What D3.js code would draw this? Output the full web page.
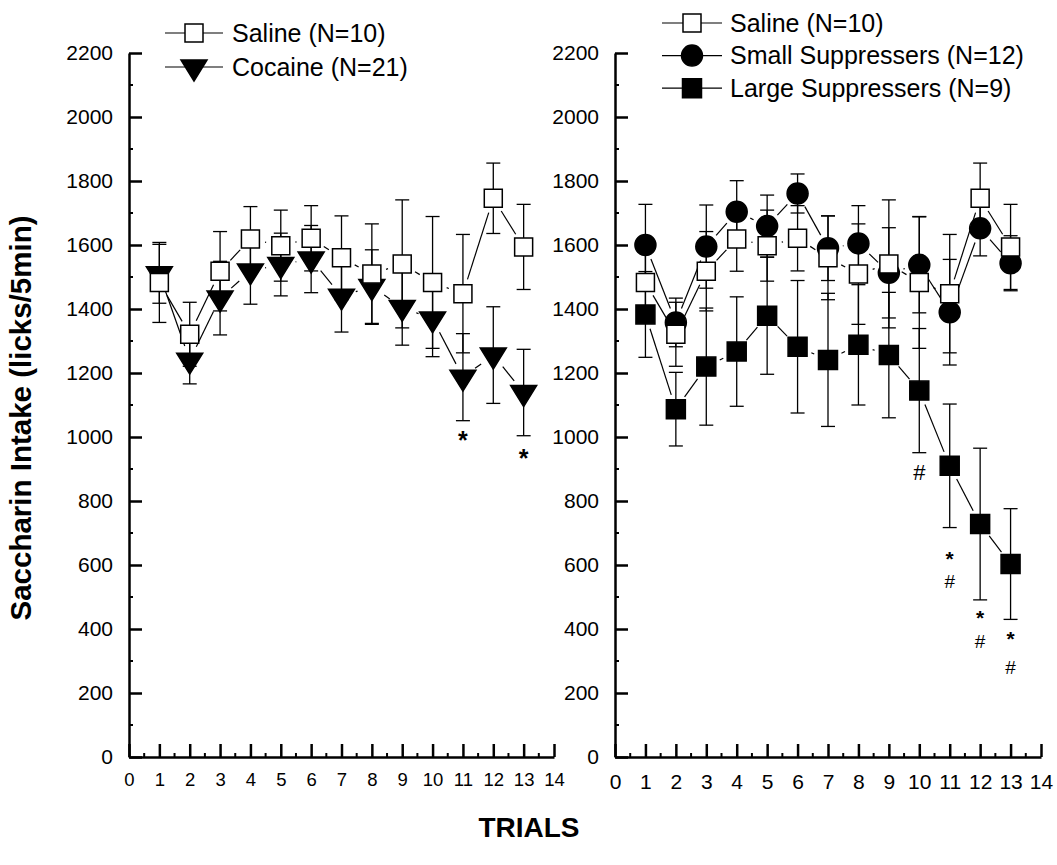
<!DOCTYPE html>
<html>
<head>
<meta charset="utf-8">
<script src="https://cdn.jsdelivr.net/npm/d3@7"></script>
<style>
  body { margin: 0; background: #fff; }
  svg { display: block; }
  text { font-family: Arial, "Liberation Sans", sans-serif; fill: #000; }
</style>
</head>
<body>
<svg width="1057" height="865"></svg>
<script>
// DATA
const trials = [1, 2, 3, 4, 5, 6, 7, 8, 9, 10, 11, 12, 13];
const yTicks = [0, 200, 400, 600, 800, 1000, 1200, 1400, 1600, 1800, 2000, 2200];
const xTicks = [0, 1, 2, 3, 4, 5, 6, 7, 8, 9, 10, 11, 12, 13, 14];

const salineMean = [1483, 1321, 1518, 1619, 1598, 1621, 1560, 1509, 1541, 1483, 1448, 1746, 1594];
const salineErr = [125, 100, 124, 101, 111, 102, 131, 157, 200, 206, 185, 110, 133];

const cocaineMean = [1510, 1240, 1434, 1519, 1539, 1556, 1440, 1470, 1405, 1369, 1187, 1256, 1139];
const cocaineErr = [92, 74, 115, 104, 98, 105, 112, 115, 118, 118, 136, 151, 135];

const smallMean = [1600, 1358, 1595, 1704, 1659, 1761, 1590, 1605, 1513, 1538, 1390, 1652, 1543];
const smallErr = [127, 76, 130, 97, 97, 61, 101, 118, 141, 150, 165, 86, 86];

const largeMean = [1383, 1087, 1220, 1267, 1379, 1282, 1241, 1288, 1256, 1145, 910, 728, 603];
const largeErr = [134, 115, 183, 171, 183, 207, 208, 188, 196, 194, 193, 237, 173];

// significance marks: trial, y value at the glyph's centre, glyph
const leftMarks = [
  { trial: 11, value: 1006, text: "*" },
  { trial: 13, value: 950, text: "*" }
];
const rightMarks = [
  { trial: 10, value: 890, text: "#" },
  { trial: 11, value: 636, text: "*" },
  { trial: 11, value: 550, text: "#" },
  { trial: 12, value: 449, text: "*" },
  { trial: 12, value: 363, text: "#" },
  { trial: 13, value: 384, text: "*" },
  { trial: 13, value: 281, text: "#" }
];

// CONSTANTS
const svg = d3.select("svg");
const yTop = 53, yBottom = 757;
const capW = 14;
const lineGap = 15;
const font = "Arial, 'Liberation Sans', sans-serif";

const yScale = d3.scaleLinear().domain([0, 2200]).range([yBottom, yTop]);

// marker shapes
const shapes = {
  openSquare: { d: "M-9,-9H9V9H-9Z", fill: "#fff" },
  square: { d: "M-9.5,-9.5H9.5V9.5H-9.5Z", fill: "#000" },
  circle: { d: d3.symbol(d3.symbolCircle, Math.PI * 10.5 * 10.5)(), fill: "#000" },
  triangle: { d: "M-13,-7L13,-7L0,14Z", fill: "#000" }
};

const saline = { name: "Saline (N=10)", mean: salineMean, err: salineErr, shape: "openSquare" };
const cocaine = { name: "Cocaine (N=21)", mean: cocaineMean, err: cocaineErr, shape: "triangle" };
const small = { name: "Small Suppressers (N=12)", mean: smallMean, err: smallErr, shape: "circle" };
const large = { name: "Large Suppressers (N=9)", mean: largeMean, err: largeErr, shape: "square" };

const panels = [
  {
    x0: 129, x1: 554, xFont: 18.5, xLabelY: 780,
    series: [cocaine, saline], // drawing order, saline on top
    legendOrder: [saline, cocaine],
    legend: { lineX0: 165, lineX1: 223, textX: 232, y0: 33, dy: 34 },
    marks: leftMarks
  },
  {
    x0: 615, x1: 1041, xFont: 21, xLabelY: 782,
    series: [large, small, saline],
    legendOrder: [saline, small, large],
    legend: { lineX0: 662, lineX1: 722, textX: 730, y0: 23, dy: 32.6 },
    marks: rightMarks
  }
];

function drawMarker(g, shape, x, y) {
  g.append("path")
    .attr("d", shapes[shape].d)
    .attr("transform", `translate(${x},${y})`)
    .attr("fill", shapes[shape].fill)
    .attr("stroke", "#000")
    .attr("stroke-width", 1.5);
}

panels.forEach(p => {
  const xScale = d3.scaleLinear().domain([0, 14]).range([p.x0, p.x1]);
  const g = svg.append("g");

  // y axis
  const yAxis = g.append("g")
    .attr("transform", `translate(${p.x0},0)`)
    .call(d3.axisLeft(yScale).tickValues(yTicks).tickFormat(d3.format("d"))
      .tickSize(-13).tickSizeOuter(0).tickPadding(16));
  yAxis.select(".domain").attr("stroke-width", 2.5);
  yAxis.selectAll(".tick line").attr("stroke-width", 2.5);
  yAxis.selectAll("text").attr("font-size", 21).attr("font-family", font);

  // x axis
  const xAxis = g.append("g")
    .attr("transform", `translate(0,${yBottom})`)
    .call(d3.axisBottom(xScale).tickValues(xTicks).tickFormat(d3.format("d"))
      .tickSize(-13).tickSizeOuter(0).tickPadding(0));
  xAxis.select(".domain").attr("stroke-width", 2.5);
  xAxis.selectAll(".tick line").attr("stroke-width", 2.5);
  xAxis.selectAll("text")
    .attr("font-size", p.xFont)
    .attr("font-family", font)
    .attr("y", p.xLabelY - yBottom)
    .attr("dy", "0.35em");

  // minor ticks
  g.selectAll(".yminor")
    .data(yTicks.slice(0, -1).map(v => v + 100))
    .enter().append("line")
    .attr("x1", p.x0).attr("x2", p.x0 + 4)
    .attr("y1", d => yScale(d)).attr("y2", d => yScale(d))
    .attr("stroke", "#000").attr("stroke-width", 2);
  g.selectAll(".xminor")
    .data(xTicks.slice(0, -1).map(v => v + 0.5))
    .enter().append("line")
    .attr("x1", d => xScale(d)).attr("x2", d => xScale(d))
    .attr("y1", yBottom).attr("y2", yBottom - 4)
    .attr("stroke", "#000").attr("stroke-width", 2);

  // series
  p.series.forEach(s => {
    const sg = g.append("g");
    const pts = trials.map((t, i) => [xScale(t), yScale(s.mean[i])]);

    // connecting lines, stopped short of the markers
    for (let i = 0; i < pts.length - 1; i++) {
      const [ax, ay] = pts[i], [bx, by] = pts[i + 1];
      const len = Math.hypot(bx - ax, by - ay);
      if (len <= 2 * lineGap) continue;
      const ux = (bx - ax) / len, uy = (by - ay) / len;
      sg.append("line")
        .attr("x1", ax + ux * lineGap).attr("y1", ay + uy * lineGap)
        .attr("x2", bx - ux * lineGap).attr("y2", by - uy * lineGap)
        .attr("stroke", "#000").attr("stroke-width", 1.2);
    }

    // error bars
    trials.forEach((t, i) => {
      const x = xScale(t);
      const yHi = yScale(s.mean[i] + s.err[i]);
      const yLo = yScale(s.mean[i] - s.err[i]);
      sg.append("line").attr("x1", x).attr("x2", x).attr("y1", yHi).attr("y2", yLo)
        .attr("stroke", "#000").attr("stroke-width", 1.3);
      [yHi, yLo].forEach(yy => {
        sg.append("line").attr("x1", x - capW / 2).attr("x2", x + capW / 2)
          .attr("y1", yy).attr("y2", yy)
          .attr("stroke", "#000").attr("stroke-width", 1.3);
      });
    });

    // markers
    pts.forEach(([x, y]) => drawMarker(sg, s.shape, x, y));
  });

  // significance marks; stacked pairs get a smaller size so they don't collide
  p.marks.forEach(m => {
    const star = m.text === "*";
    const stacked = p.marks.filter(o => o.trial === m.trial).length > 1;
    const fs = star ? (stacked ? 21 : 25) : (stacked ? 19 : 22);
    g.append("text")
      .attr("x", xScale(m.trial))
      .attr("y", yScale(m.value) + (star ? 0.575 : 0.36) * fs)
      .attr("text-anchor", "middle")
      .attr("font-size", fs)
      .attr("font-weight", star ? "bold" : "normal")
      .text(m.text);
  });

  // legend
  const L = p.legend;
  p.legendOrder.forEach((s, i) => {
    const y = L.y0 + i * L.dy;
    g.append("line").attr("x1", L.lineX0).attr("x2", L.lineX1).attr("y1", y).attr("y2", y)
      .attr("stroke", "#000").attr("stroke-width", 1.2);
    drawMarker(g, s.shape, (L.lineX0 + L.lineX1) / 2, y);
    g.append("text")
      .attr("x", L.textX).attr("y", y)
      .attr("dy", "0.35em")
      .attr("font-size", 25)
      .text(s.name);
  });
});

// axis titles
svg.append("text")
  .attr("transform", "translate(31,418) rotate(-90)")
  .attr("text-anchor", "middle")
  .attr("font-size", 29.5)
  .attr("font-weight", "bold")
  .text("Saccharin Intake (licks/5min)");

svg.append("text")
  .attr("x", 529).attr("y", 837)
  .attr("text-anchor", "middle")
  .attr("font-size", 28)
  .attr("font-weight", "bold")
  .text("TRIALS");
</script>
</body>
</html>
